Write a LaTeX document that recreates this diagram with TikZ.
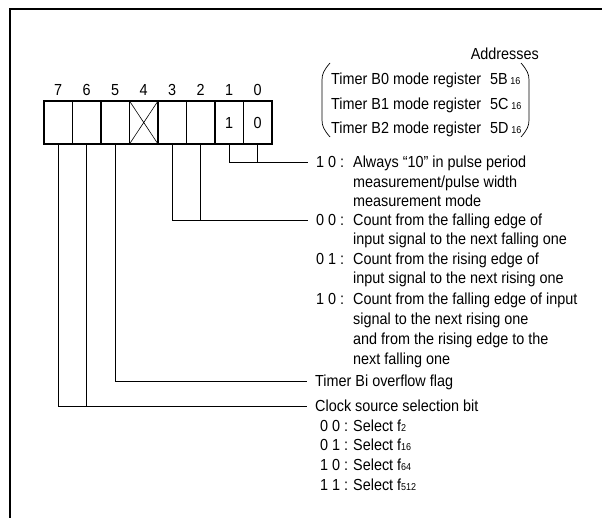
\documentclass[tikz,border=0pt]{standalone}
\usepackage{fontspec}
\setmainfont[FakeStretch=0.9]{Liberation Sans}
\usetikzlibrary{positioning}

\newcommand{\smallnum}[1]{{\fontsize{10pt}{10pt}\selectfont #1}}
\newcommand{\bitcode}[2][37pt]{\makebox[#1][l]{#2}}

\tikzset{
	cell/.style={draw, line width=1.6pt, minimum width=28.5pt, minimum height=43pt, inner sep=0pt, outer sep=0pt, text height=11.4pt, text depth=0pt},
	bitno/.style={inner sep=0pt, text height=11.4pt, text depth=0pt},
	txt/.style={anchor=west, inner sep=0pt, text height=11.4pt, text depth=0pt},
	head/.style={txt, inner xsep=8pt},
	wire/.style={line width=0.8pt},
}

\begin{document}
\begin{tikzpicture}[x=1pt, y=-1pt]

\def\width{602}
\def\height{518}

\fontsize{16pt}{19pt}\selectfont
\path [use as bounding box] (0,0) rectangle (\width,\height);

% FRAME
\draw [line width=2pt] (10,\height) -- (10,9.5) -- (\width,9.5);

% REGISTER
\node [cell] (c7) at (58.25,122.5) {};
\node [cell] (c6) at (86.75,122.5) {};
\node [cell] (c5) at (115.25,122.5) {};
\node [cell] (c4) at (143.75,122.5) {};
\node [cell] (c3) at (172.25,122.5) {};
\node [cell] (c2) at (200.75,122.5) {};
\node [cell] (c1) at (229.25,122.5) {1};
\node [cell] (c0) at (257.75,122.5) {0};
\draw [line width=0.6pt] (c4.north west) -- (c4.south east) (c4.north east) -- (c4.south west);

% BIT NUMBERS
\node [bitno, above=5pt of c7] (n7) {7};
\node [bitno, above=5pt of c6] (n6) {6};
\node [bitno, above=5pt of c5] (n5) {5};
\node [bitno, above=5pt of c4] (n4) {4};
\node [bitno, above=5pt of c3] (n3) {3};
\node [bitno, above=5pt of c2] (n2) {2};
\node [bitno, above=5pt of c1] (n1) {1};
\node [bitno, above=5pt of c0] (n0) {0};

% ADDRESSES
\node [txt, anchor=east] (addr) at (539,54) {Addresses};
\node [txt] (tb0) at (331,79) {Timer B0 mode register};
\node [txt] (tb1) at (331,104) {Timer B1 mode register};
\node [txt] (tb2) at (331,128) {Timer B2 mode register};
\node [txt] (ad0) at (490,79) {5B\,\smallnum{16}};
\node [txt] (ad1) at (490,104) {5C\,\smallnum{16}};
\node [txt] (ad2) at (490,128) {5D\,\smallnum{16}};
\draw [line width=0.7pt] (330,63) .. controls (324,70) and (322,74) .. (322,80) -- (322,120) .. controls (322,126) and (324,130) .. (330,137);
\draw [line width=0.7pt] (521,63) .. controls (527,70) and (529,74) .. (529,80) -- (529,120) .. controls (529,126) and (527,130) .. (521,137);

% BITS 1,0
\node [head] (pm) at (308,162) {\bitcode{1 0 :}Always ``10'' in pulse period};
\node [txt] (pm2) at (353,182) {measurement/pulse width};
\node [txt] (pm3) at (353,201) {measurement mode};
\draw [wire] (c1.south) |- (pm.west);
\draw [wire] (c0.south) -- (c0.south |- pm.west);

% BITS 3,2
\node [head] (eg00) at (308,220) {\bitcode{0 0 :}Count from the falling edge of};
\node [txt] (eg00b) at (353,239) {input signal to the next falling one};
\node [txt] (eg01) at (316,259) {\bitcode{0 1 :}Count from the rising edge of};
\node [txt] (eg01b) at (353,278) {input signal to the next rising one};
\node [txt] (eg10) at (316,299) {\bitcode{1 0 :}Count from the falling edge of input};
\node [txt] (eg10b) at (353,319) {signal to the next rising one};
\node [txt] (eg10c) at (353,339) {and from the rising edge to the};
\node [txt] (eg10d) at (353,359) {next falling one};
\draw [wire] (c3.south) |- (eg00.west);
\draw [wire] (c2.south) -- (c2.south |- eg00.west);

% BIT 5
\node [head] (ovf) at (307,381) {Timer Bi overflow flag};
\draw [wire] (c5.south) |- (ovf.west);

% BITS 7,6
\node [head] (clk) at (307,406) {Clock source selection bit};
\node [txt] (clk00) at (320,426) {\bitcode[33pt]{0 0 :}Select f\smallnum{2}};
\node [txt] (clk01) at (320,445) {\bitcode[33pt]{0 1 :}Select f\smallnum{16}};
\node [txt] (clk10) at (320,465) {\bitcode[33pt]{1 0 :}Select f\smallnum{64}};
\node [txt] (clk11) at (320,485) {\bitcode[33pt]{1 1 :}Select f\smallnum{512}};
\draw [wire] (c7.south) |- (clk.west);
\draw [wire] (c6.south) -- (c6.south |- clk.west);

\end{tikzpicture}
\end{document}
